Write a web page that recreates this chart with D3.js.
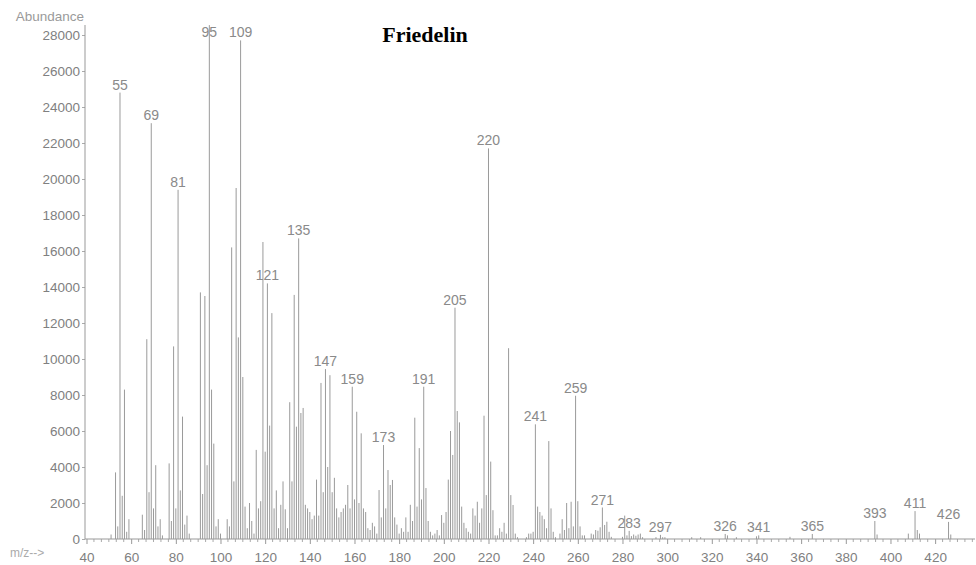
<!DOCTYPE html>
<html>
<head>
<meta charset="utf-8">
<script src="https://cdn.jsdelivr.net/npm/d3@7"></script>
<style>
  body { margin: 0; background: #fff; }
  text { font-family: "Liberation Sans", Arial, sans-serif; }
  text.title { font-family: "Liberation Serif", "Times New Roman", serif; }
</style>
</head>
<body>
<div id="chart"></div>
<script>
// ==========================
// Data
// ==========================
const mz = [
  51, 53, 54, 55, 56, 57, 58, 59,
  65, 66, 67, 68, 69, 70, 71, 72, 73, 74,
  77, 78, 79, 80, 81, 82, 83, 84, 85, 86,
  91, 92, 93, 94, 95, 96, 97, 98, 99, 100,
  103, 104, 105, 106, 107, 108, 109, 110, 111, 112, 113, 114, 115,
  116, 117, 118, 119, 120, 121, 122, 123, 124, 125, 126, 127, 128, 129, 130,
  131, 132, 133, 134, 135, 136, 137, 138, 139, 140, 141, 142, 143, 144, 145,
  146, 147, 148, 149, 150, 151, 152, 153, 154, 155, 156, 157, 158, 159, 160,
  161, 162, 163, 164, 165, 166, 167, 168, 169, 170, 171, 172, 173, 174, 175,
  176, 177, 178, 179, 180, 181, 182, 183, 184, 185, 186, 187, 188, 189, 190,
  191, 192, 193, 194, 195, 196, 197, 198, 199, 200, 201, 202, 203, 204, 205,
  206, 207, 208, 209, 210, 211, 212, 213, 214, 215, 216, 217, 218, 219, 220,
  221, 222, 223, 224, 225, 226, 227, 228, 229, 230, 231, 232, 233, 237, 238,
  239, 240, 241, 242, 243, 244, 245, 246, 247, 248, 249, 250, 252, 253, 254,
  255, 256, 257, 258, 259, 260, 261, 262, 263, 266, 267, 268, 269, 270, 271,
  272, 273, 274, 275, 280, 281, 282, 283, 284, 285, 286, 287, 288, 289, 295,
  297, 298, 299, 311, 315, 326, 327, 331, 340, 341, 355, 365, 393, 394, 408,
  411, 412, 413, 426, 427
];

const abundance = [
  250, 3700, 700, 24800, 2400, 8300, 400, 1100,
  1350, 500, 11100, 2600, 23100, 1700, 4100, 700, 1100, 200,
  4200, 1000, 10700, 1700, 19400, 2700, 6800, 800, 1300, 300,
  13700, 2500, 13500, 4100, 28550, 8300, 5300, 700, 1100, 300,
  1100, 700, 16200, 3200, 19500, 11200, 27700, 9000, 1800, 600, 2000, 1000, 300,
  4950, 1700, 2100, 16500, 4850, 14200, 6300, 12550, 1700, 2700, 600, 1900, 3200, 1650, 600,
  7600, 3200, 13560, 6240, 16700, 7000, 7280, 1900, 1700, 1500, 1100, 1300, 3300, 1300, 8670,
  2600, 9440, 4000, 9100, 2600, 3400, 1700, 1200, 1500, 1700, 1900, 3000, 1700, 8460, 2200,
  7070, 2000, 5870, 1700, 1500, 600, 500, 900, 700, 300, 2720, 1200, 5220, 1700, 3830,
  3000, 3280, 1200, 800, 300, 600, 400, 1200, 400, 1900, 1000, 6740, 1800, 5050, 2200,
  8460, 2830, 1000, 400, 200, 300, 500, 200, 1330, 900, 1500, 3300, 6000, 4670, 12850,
  7110, 6480, 1800, 900, 600, 400, 300, 1700, 1300, 2070, 900, 1700, 6850, 2440, 21700,
  4300, 1600, 200, 200, 600, 400, 900, 300, 10600, 2440, 1890, 300, 100, 100, 300,
  300, 400, 6370, 1800, 1500, 1300, 1100, 600, 5440, 1700, 400, 100, 300, 1100, 500,
  2000, 600, 2070, 700, 7960, 2100, 700, 200, 200, 300, 250, 500, 460, 650, 1750,
  780, 960, 400, 120, 120, 1300, 200, 450, 160, 250, 180, 250, 300, 100, 100,
  230, 100, 100, 100, 100, 280, 200, 100, 150, 200, 120, 280, 1000, 250, 300,
  1550, 500, 300, 950, 250
];

const labeledPeaks = [55, 69, 81, 95, 109, 121, 135, 147, 159, 173, 191, 205, 220,
  241, 259, 271, 283, 297, 326, 341, 365, 393, 411, 426];

const xTicks = d3.range(40, 421, 20);
const yTicks = d3.range(0, 28001, 2000);

// ==========================
// Dimensions
// ==========================
const width = 976;
const height = 565;
const axisX = 85;
const baseY = 539;

const svg = d3.select("#chart")
  .append("svg")
  .attr("width", width)
  .attr("height", height);

const x = d3.scaleLinear().domain([40, 440]).range([86.5, 979.8]);
const y = d3.scaleLinear().domain([0, 28000]).range([baseY, 35]);

const spectrum = mz.map((m, i) => ({ mz: m, value: abundance[i] }));

// ==========================
// Axes
// ==========================
const yAxis = svg.append("g")
  .attr("transform", `translate(${axisX},0)`)
  .call(d3.axisLeft(y).tickValues(yTicks).tickSize(3).tickPadding(2).tickFormat(d3.format("d")));
yAxis.select(".domain").remove();
yAxis.selectAll("line").attr("stroke", "#aaa");
yAxis.selectAll("text").attr("fill", "#808080").attr("font-size", 13.5);

const xAxis = svg.append("g")
  .attr("transform", `translate(0,${baseY})`)
  .call(d3.axisBottom(x).tickValues(xTicks).tickSize(5).tickPadding(8).tickFormat(d3.format("d")));
xAxis.select(".domain").remove();
xAxis.selectAll("line").attr("stroke", "#999");
xAxis.selectAll("text").attr("fill", "#808080").attr("font-size", 13.5);

// minor ticks on m/z axis
const minorTicks = d3.range(40, 440, 20 / 6).filter(v => Math.abs(v / 20 - Math.round(v / 20)) > 0.01);
svg.append("g")
  .selectAll("line")
  .data(minorTicks)
  .enter()
  .append("line")
  .attr("x1", d => x(d))
  .attr("x2", d => x(d))
  .attr("y1", baseY)
  .attr("y2", baseY + 3)
  .attr("stroke", "#aaa");

// axis lines
svg.append("line")
  .attr("x1", axisX).attr("x2", axisX)
  .attr("y1", 25).attr("y2", baseY)
  .attr("stroke", "#999");
svg.append("line")
  .attr("x1", axisX).attr("x2", 975)
  .attr("y1", baseY).attr("y2", baseY)
  .attr("stroke", "#999");

// axis captions
svg.append("text")
  .attr("x", 84)
  .attr("y", 21)
  .attr("text-anchor", "end")
  .attr("font-size", 13.5)
  .attr("fill", "#9a9a9a")
  .text("Abundance");

svg.append("text")
  .attr("x", 10)
  .attr("y", 557)
  .attr("font-size", 12)
  .attr("fill", "#aaa")
  .text("m/z-->");

// ==========================
// Spectrum sticks
// ==========================
svg.append("g")
  .selectAll("line")
  .data(spectrum)
  .enter()
  .append("line")
  .attr("x1", d => x(d.mz))
  .attr("x2", d => x(d.mz))
  .attr("y1", baseY)
  .attr("y2", d => y(d.value))
  .attr("stroke", "#9a9a9a")
  .attr("stroke-width", 1);

// peak labels
svg.append("g")
  .selectAll("text")
  .data(spectrum.filter(d => labeledPeaks.includes(d.mz)))
  .enter()
  .append("text")
  .attr("x", d => x(d.mz))
  .attr("y", d => Math.max(y(d.value) - 3, 37))
  .attr("text-anchor", "middle")
  .attr("font-size", 14)
  .attr("fill", "#8a8a8a")
  .text(d => d.mz);

// title
svg.append("text")
  .attr("class", "title")
  .attr("x", 425)
  .attr("y", 42)
  .attr("text-anchor", "middle")
  .attr("font-weight", "bold")
  .attr("font-size", 22)
  .attr("fill", "#000")
  .text("Friedelin");
</script>
</body>
</html>
